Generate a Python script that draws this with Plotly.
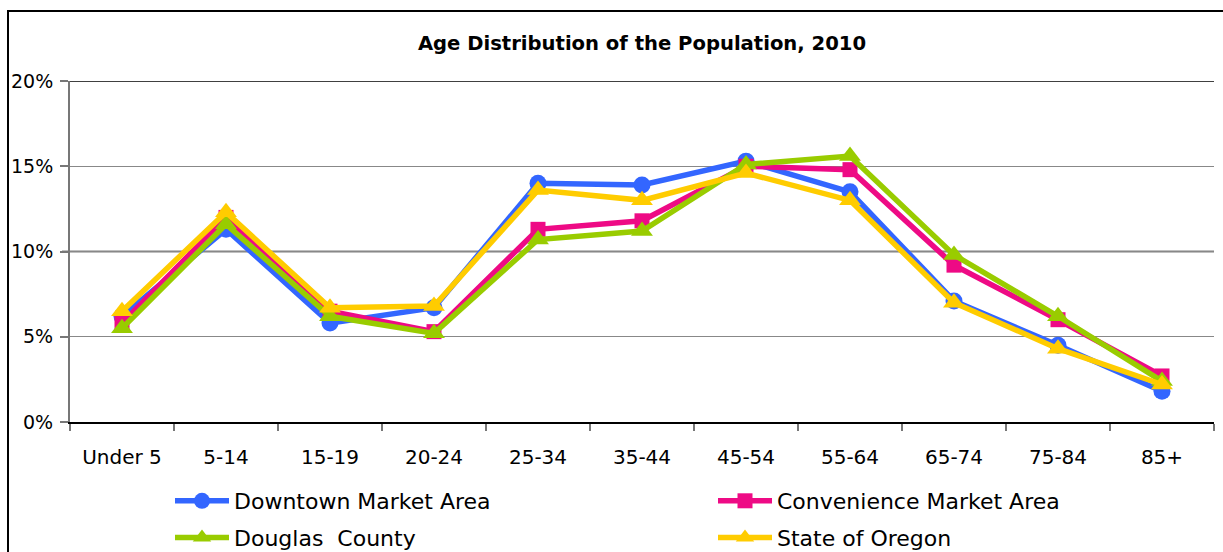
import plotly.graph_objects as go

categories = ["Under 5", "5-14", "15-19", "20-24", "25-34", "35-44", "45-54", "55-64", "65-74", "75-84", "85+"]
downtown = [6.2, 11.3, 5.8, 6.7, 14.0, 13.9, 15.3, 13.5, 7.1, 4.5, 1.8]
convenience = [5.8, 12.0, 6.5, 5.3, 11.3, 11.8, 15.0, 14.8, 9.2, 6.0, 2.7]
douglas = [5.5, 11.6, 6.2, 5.2, 10.7, 11.2, 15.1, 15.6, 9.8, 6.2, 2.4]
oregon = [6.5, 12.3, 6.7, 6.8, 13.6, 13.0, 14.6, 13.0, 7.0, 4.3, 2.2]
yticks = [0, 5, 10, 15, 20]
ytick_labels = ["0%", "5%", "10%", "15%", "20%"]

series = [
    ("Downtown Market Area", downtown, "#3366FF", "circle", 17, "legend"),
    ("Convenience Market Area", convenience, "#EE0A85", "square", 15, "legend2"),
    ("Douglas  County", douglas, "#99CC00", "triangle-up", 19, "legend"),
    ("State of Oregon", oregon, "#FFCC00", "triangle-up", 19, "legend2"),
]

FONT = "DejaVu Sans"
W, H = 1223, 552
L, R, T, B = 70, 9, 81, 130
PW, PH = W - L - R, H - T - B

fig = go.Figure()
for name, vals, color, sym, size, lg in series:
    fig.add_trace(go.Scatter(
        x=categories, y=vals, name=name, mode="lines+markers", legend=lg, legendgroup=name,
        line=dict(color=color, width=5.5),
        marker=dict(symbol=sym, size=size, color=color, line=dict(width=0)),
    ))

legend_common = dict(orientation="v", xanchor="left", yref="container", yanchor="top",
                     y=1 - 480 / H, font=dict(size=22, family=FONT), itemwidth=54,
                     tracegroupgap=5, bgcolor="rgba(0,0,0,0)")

fig.update_layout(
    width=W, height=H,
    margin=dict(l=L, r=R, t=T, b=B, autoexpand=False),
    paper_bgcolor="white", plot_bgcolor="white",
    font=dict(family=FONT, color="black", size=16),
    title=dict(text="<b>Age Distribution of the Population, 2010</b>", x=0.5, xref="paper",
               xanchor="center", yref="container", y=1 - 43 / H, yanchor="middle",
               font=dict(size=19.6, family=FONT)),
    showlegend=True,
    legend=dict(x=(170 - L) / PW, **legend_common),
    legend2=dict(x=(713 - L) / PW, **legend_common),
    xaxis=dict(type="category", tickson="boundaries", ticks="outside", ticklen=7,
               tickcolor="#777777", tickwidth=2, showline=True, linecolor="black", linewidth=1.5,
               showgrid=False, tickfont=dict(size=20, family=FONT), range=[-0.5, 10.5],
               automargin=False, ticklabelstandoff=16),
    yaxis=dict(range=[0, 20], tickvals=yticks, ticktext=ytick_labels, ticks="outside", ticklen=8,
               tickcolor="#777777", tickwidth=2, showline=True, linecolor="#777777", linewidth=2,
               showgrid=True, gridcolor="#888888", gridwidth=1.2, zeroline=False,
               tickfont=dict(size=19, family=FONT), automargin=False, ticklabelstandoff=3),
)

# darker gridlines at 10% and 20%, and outer chart border
for yv in [10, 20]:
    fig.add_shape(type="line", xref="paper", yref="y", x0=-8 / PW, x1=1, y0=yv, y1=yv,
                  line=dict(color="black", width=1.5), layer="between")
fig.add_shape(type="rect", xref="paper", yref="paper", x0=(8 - L) / PW, x1=1.02,
              y0=-0.6, y1=(PH + T - 11) / PH, line=dict(color="black", width=2), layer="below")

fig.write_html("out.html", config={"displayModeBar": False},
               post_script="document.body.style.margin='0';document.body.style.overflow='hidden';")
